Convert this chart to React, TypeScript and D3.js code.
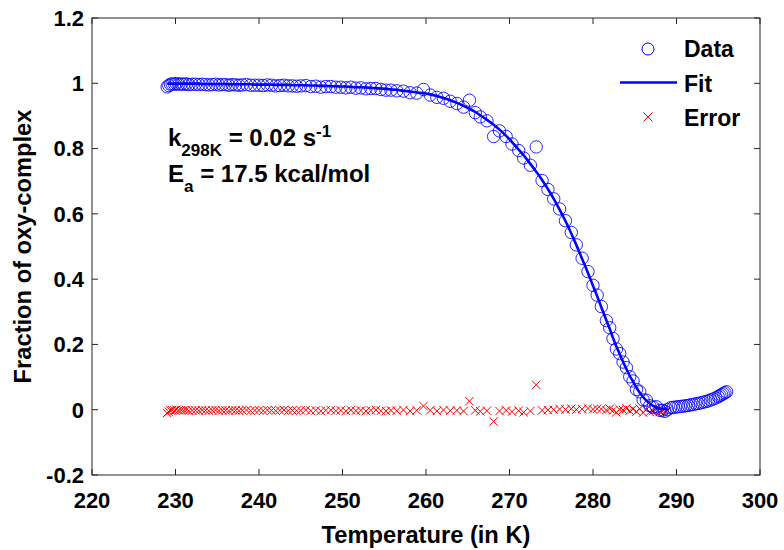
import React from "react";
import * as d3 from "d3";

// ---- data ----
const temperature = [
  229.0, 229.2, 229.4, 229.6, 229.9, 230.1, 230.4, 230.7, 231.0, 231.3, 231.6, 232.0,
  232.4, 232.8, 233.2, 233.6, 234.0, 234.4, 234.8, 235.2, 235.6, 236.0, 236.4, 236.8, 237.2, 237.6, 238.0, 238.5, 239.0, 239.5, 240.0, 240.5, 241.0, 241.5, 242.0, 242.5, 243.0, 243.5, 244.0, 244.5, 245.0,
  245.6, 246.2, 246.8, 247.4, 248.0, 248.6, 249.2, 249.8, 250.4, 251.0, 251.6, 252.2, 252.8, 253.4, 254.0, 254.6, 255.2, 255.8, 256.5, 257.3, 258.1, 258.9,
  259.7, 260.5, 261.3, 262.1, 262.9, 263.7, 264.5, 265.2, 265.9, 266.5, 267.3, 268.1, 268.8, 269.6, 270.3, 271.1, 271.7, 272.5, 273.2, 273.9,
  274.6, 275.3, 276.0, 276.7, 277.4, 278.0, 278.7, 279.4, 280.0, 280.5, 281.0, 281.6,
  282.0, 282.4, 282.8, 283.2, 283.6, 284.0, 284.4, 284.8, 285.2, 285.6, 286.0, 286.4, 286.8, 287.2, 287.6, 288.0, 288.3, 288.6, 288.9,
  289.3, 289.6, 289.9, 290.2, 290.5, 290.8, 291.1, 291.4, 291.7, 292.0, 292.3, 292.6, 292.9, 293.2, 293.5, 293.8, 294.1, 294.4, 294.7, 295.0, 295.2, 295.4, 295.6, 295.8, 296.0,
];

const fraction = [
  0.989, 0.993, 0.997, 0.998, 0.997, 0.999, 0.997, 0.998, 0.997, 0.998, 0.996, 0.997,
  0.997, 0.996, 0.997, 0.996, 0.995, 0.996, 0.997, 0.995, 0.996, 0.996, 0.994, 0.996, 0.995, 0.994, 0.995, 0.996, 0.994, 0.994, 0.994, 0.993, 0.995, 0.994, 0.992, 0.993, 0.994, 0.992, 0.992, 0.991, 0.992,
  0.993, 0.990, 0.991, 0.988, 0.990, 0.990, 0.988, 0.988, 0.986, 0.988, 0.985, 0.986, 0.983, 0.984, 0.984, 0.981, 0.979, 0.979, 0.977, 0.976, 0.971, 0.970,
  0.981, 0.964, 0.957, 0.954, 0.945, 0.938, 0.927, 0.948, 0.910, 0.897, 0.885, 0.837, 0.854, 0.837, 0.814, 0.794, 0.771, 0.749, 0.805, 0.702,
  0.675, 0.646, 0.615, 0.579, 0.543, 0.505, 0.464, 0.423, 0.381, 0.351, 0.316, 0.273,
  0.251, 0.218, 0.186, 0.172, 0.146, 0.129, 0.101, 0.088, 0.062, 0.055, 0.030, 0.029, 0.012, 0.008, 0.009, -0.002, -0.002, -0.005, 0.000,
  0.006, 0.007, 0.008, 0.009, 0.010, 0.011, 0.012, 0.013, 0.015, 0.016, 0.018, 0.019, 0.021, 0.023, 0.025, 0.027, 0.030, 0.033, 0.036, 0.040, 0.043, 0.046, 0.049, 0.052, 0.055,
];

// fit and error exist for the first points (up to 289 K)
const fit = [
  0.999, 0.999, 0.999, 0.999, 0.999, 0.999, 0.999, 0.999, 0.999, 0.999, 0.999, 0.999,
  0.999, 0.999, 0.998, 0.998, 0.998, 0.998, 0.998, 0.998, 0.998, 0.998, 0.997, 0.997, 0.997, 0.997, 0.997, 0.997, 0.997, 0.996, 0.996, 0.996, 0.996, 0.996, 0.995, 0.995, 0.995, 0.995, 0.994, 0.994, 0.994,
  0.994, 0.993, 0.993, 0.992, 0.992, 0.991, 0.991, 0.990, 0.990, 0.989, 0.988, 0.988, 0.987, 0.986, 0.985, 0.984, 0.983, 0.981, 0.980, 0.977, 0.975, 0.972,
  0.970, 0.966, 0.961, 0.955, 0.948, 0.940, 0.931, 0.922, 0.912, 0.902, 0.888, 0.873, 0.858, 0.839, 0.820, 0.797, 0.779, 0.753, 0.729, 0.704,
  0.676, 0.646, 0.613, 0.578, 0.540, 0.505, 0.462, 0.419, 0.380, 0.348, 0.314, 0.274,
  0.248, 0.220, 0.194, 0.171, 0.147, 0.125, 0.104, 0.086, 0.068, 0.052, 0.039, 0.028, 0.019, 0.012, 0.007, 0.004, 0.002, 0.002, 0.003,
];

const errorValues = [
  -0.010, -0.006, -0.002, -0.001, -0.002, 0.000, -0.002, -0.001, -0.002, -0.001, -0.003, -0.002,
  -0.002, -0.003, -0.001, -0.002, -0.003, -0.002, -0.001, -0.003, -0.002, -0.002, -0.003, -0.001, -0.002, -0.003, -0.002, -0.001, -0.003, -0.002, -0.002, -0.003, -0.001, -0.002, -0.003, -0.002, -0.001, -0.003, -0.002, -0.003, -0.002,
  -0.001, -0.003, -0.002, -0.004, -0.002, -0.001, -0.003, -0.002, -0.004, -0.001, -0.003, -0.002, -0.004, -0.002, -0.001, -0.003, -0.004, -0.002, -0.003, -0.001, -0.004, -0.002,
  0.011, -0.002, -0.004, -0.001, -0.003, -0.002, -0.004, 0.026, -0.002, -0.005, -0.003, -0.036, -0.004, -0.002, -0.006, -0.003, -0.008, -0.004, 0.076, -0.002,
  -0.001, 0.000, 0.002, 0.001, 0.003, 0.000, 0.002, 0.004, 0.001, 0.003, 0.002, -0.001,
  0.003, -0.002, -0.008, 0.001, -0.001, 0.004, -0.003, 0.002, -0.006, 0.003, -0.009, 0.001, -0.007, -0.004, 0.002, -0.006, -0.004, -0.007, -0.003,
];

const xTicks = [220, 230, 240, 250, 260, 270, 280, 290, 300];
const yTicks = [-0.2, 0, 0.2, 0.4, 0.6, 0.8, 1, 1.2];
const yTickLabels = ["-0.2", "0", "0.2", "0.4", "0.6", "0.8", "1", "1.2"];
const legendLabels = ["Data", "Fit", "Error"];

const W = 784;
const H = 550;
const FONT = "'Liberation Sans', Arial, Helvetica, sans-serif";
const BLUE = "#0000ff";
const RED = "#ff0000";
const AXIS = "#262626";

export default function App() {
  const x = d3.scaleLinear().domain([220, 300]).range([92, 760]);
  const y = d3.scaleLinear().domain([-0.2, 1.2]).range([475, 18]);
  const [x0, x1] = x.range();
  const [y0, y1] = y.range();
  const tickLen = 6;

  const fitPts = fit.map((v, i) => [temperature[i], v] as [number, number]);
  const line = d3
    .line<[number, number]>()
    .x((d) => x(d[0]))
    .y((d) => y(d[1]))
    .curve(d3.curveMonotoneX);

  const cross = (cx: number, cy: number, s: number, key: string) => (
    <path
      key={key}
      d={`M${cx - s},${cy - s}L${cx + s},${cy + s}M${cx - s},${cy + s}L${cx + s},${cy - s}`}
      stroke={RED}
      strokeWidth={1}
      fill="none"
    />
  );

  return (
    <svg
      width={W}
      height={H}
      style={{ position: "absolute", left: 0, top: 0, background: "#fff" }}
      fontFamily={FONT}
    >
      <rect x={0} y={0} width={W} height={H} fill="#fff" />

      {/* error crosses */}
      <g>
        {errorValues.map((v, i) => cross(x(temperature[i]), y(v), 4.2, "e" + i))}
      </g>

      {/* data circles */}
      <g>
        {fraction.map((v, i) => (
          <circle
            key={"d" + i}
            cx={x(temperature[i])}
            cy={y(v)}
            r={6.2}
            fill="none"
            stroke={BLUE}
            strokeWidth={1}
            strokeOpacity={0.85}
          />
        ))}
      </g>

      {/* fit */}
      <path d={line(fitPts) || ""} fill="none" stroke={BLUE} strokeWidth={2.6} />

      {/* axes box */}
      <rect x={x0} y={y1} width={x1 - x0} height={y0 - y1} fill="none" stroke={AXIS} strokeWidth={1} />
      {xTicks.map((t) => (
        <g key={"xt" + t}>
          <line x1={x(t)} x2={x(t)} y1={y0} y2={y0 - tickLen} stroke={AXIS} />
          <line x1={x(t)} x2={x(t)} y1={y1} y2={y1 + tickLen} stroke={AXIS} />
          <text x={x(t)} y={508} textAnchor="middle" fontSize={22} fontWeight="bold" fill="#000">
            {t}
          </text>
        </g>
      ))}
      {yTicks.map((t, i) => (
        <g key={"yt" + i}>
          <line x1={x0} x2={x0 + tickLen} y1={y(t)} y2={y(t)} stroke={AXIS} />
          <line x1={x1} x2={x1 - tickLen} y1={y(t)} y2={y(t)} stroke={AXIS} />
          <text x={84} y={y(t)} dy="0.36em" textAnchor="end" fontSize={22} fontWeight="bold" fill="#000">
            {yTickLabels[i]}
          </text>
        </g>
      ))}

      {/* axis labels */}
      <text x={(x0 + x1) / 2} y={543} textAnchor="middle" fontSize={23.7} fontWeight="bold" fill="#000">
        Temperature (in K)
      </text>
      <text
        transform={`translate(31,${(y0 + y1) / 2}) rotate(-90)`}
        textAnchor="middle"
        fontSize={23.7}
        fontWeight="bold"
        fill="#000"
      >
        Fraction of oxy-complex
      </text>

      {/* annotation */}
      <text x={168} y={146} fontSize={24} fontWeight="bold" fill="#000">
        k
        <tspan dy={10} fontSize={17}>298K</tspan>
        <tspan dy={-10}> = 0.02 s</tspan>
        <tspan dy={-9} fontSize={17}>-1</tspan>
      </text>
      <text x={168} y={182} fontSize={24} fontWeight="bold" fill="#000">
        E
        <tspan dy={10} fontSize={17}>a</tspan>
        <tspan dy={-10}> = 17.5 kcal/mol</tspan>
      </text>

      {/* legend */}
      <g>
        <circle cx={648} cy={49} r={6} fill="none" stroke={BLUE} strokeWidth={1} />
        <line x1={620} x2={677} y1={82.5} y2={82.5} stroke={BLUE} strokeWidth={2.6} />
        {cross(648, 117, 4.5, "legx")}
        {legendLabels.map((l, i) => (
          <text key={l} x={684} y={57 + i * 34.5} fontSize={23} fontWeight="bold" fill="#000">
            {l}
          </text>
        ))}
      </g>
    </svg>
  );
}
